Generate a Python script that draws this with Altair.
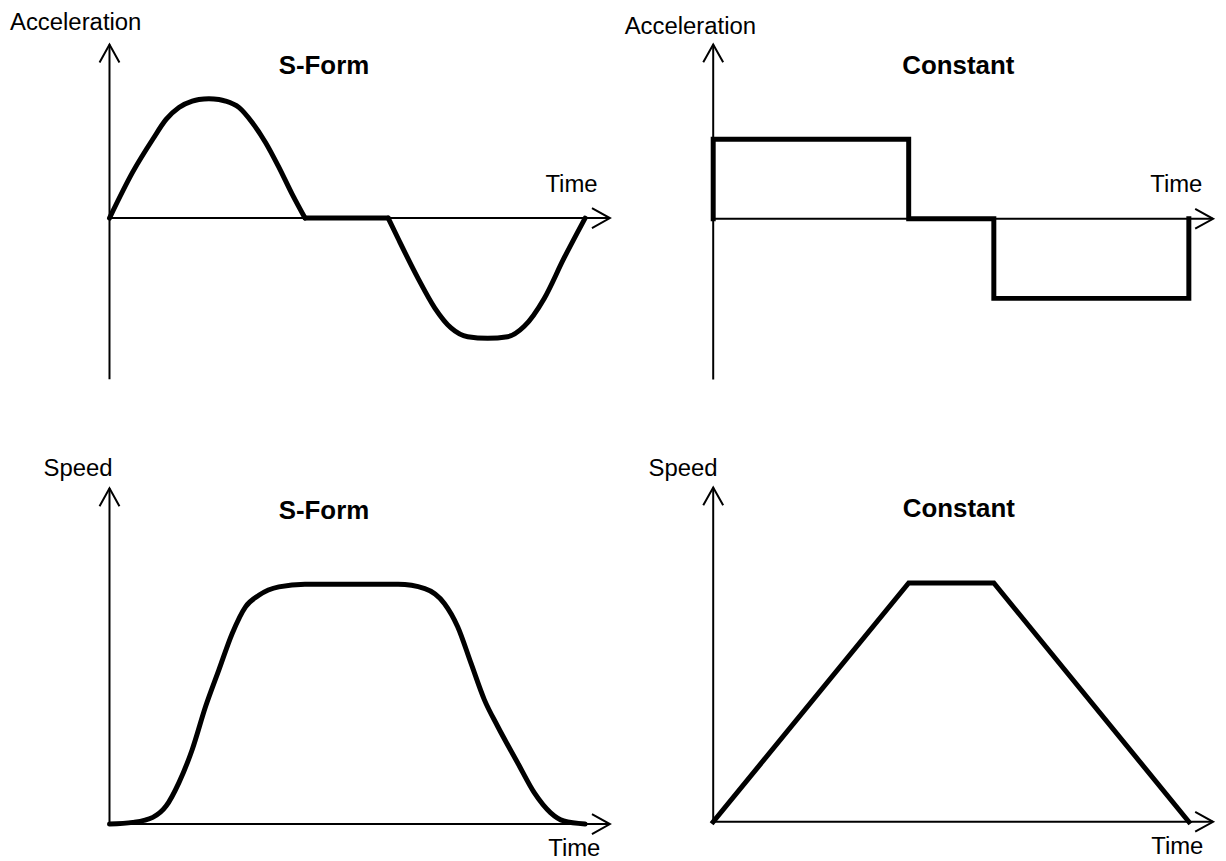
import altair as alt
import pandas as pd

# ------------------------------------------------------------------ data
# Time in units where each move lasts 10; acceleration relative to the level
# of the constant profile; speed relative to its maximum.
time_label = "Time"
value_labels = ["Acceleration", "Speed"]
profile_titles = ["S-Form", "Constant"]

# S-Form acceleration: positive lobe, cruise, negative lobe
sacc_up_t = [0.0, 0.49, 0.91, 1.19, 1.46, 1.74, 1.88, 2.09, 2.30, 2.44, 2.72, 3.00, 3.28, 3.56, 3.84, 4.11]
sacc_up_a = [0.0, 0.58, 0.99, 1.24, 1.39, 1.47, 1.49, 1.50, 1.49, 1.47, 1.39, 1.20, 0.95, 0.64, 0.30, 0.0]
sacc_cruise_t = [4.11, 5.86]
sacc_cruise_a = [0.0, 0.0]
sacc_down_t = [5.86, 6.07, 6.49, 6.84, 7.18, 7.53, 7.95, 8.37, 8.72, 9.14, 9.55, 10.0]
sacc_down_a = [0.0, -0.26, -0.76, -1.13, -1.38, -1.49, -1.51, -1.49, -1.36, -1.01, -0.51, 0.0]

# S-Form speed
sspd_t = [0.0, 0.49, 0.91, 1.19, 1.46, 1.74, 2.02, 2.30, 2.58, 2.86, 3.14, 3.56, 4.11,
          6.07, 6.63, 7.04, 7.32, 7.60, 7.88, 8.16, 8.58, 8.93, 9.27, 9.55, 10.0]
sspd_v = [0.0, 0.007, 0.028, 0.075, 0.173, 0.311, 0.490, 0.643, 0.795, 0.906, 0.954, 0.989, 1.0,
          1.0, 0.982, 0.920, 0.823, 0.671, 0.519, 0.408, 0.256, 0.131, 0.048, 0.013, 0.0]

# Constant acceleration (step profile) and constant speed (trapezoid)
cacc_t = [0.0, 0.0, 4.11, 4.11, 5.90, 5.90, 10.0, 10.0]
cacc_a = [0.0, 1.0, 1.0, 0.0, 0.0, -1.0, -1.0, 0.0]
cspd_t = [0.0, 4.11, 5.90, 10.0]
cspd_v = [0.0, 1.0, 1.0, 0.0]


def curve_frame(parts):
    rows = []
    for name, ts, vs in parts:
        for t, v in zip(ts, vs):
            rows.append({"t": t, "v": v, "seg": name, "i": len(rows)})
    return pd.DataFrame(rows)


sacc_df = curve_frame([("up", sacc_up_t, sacc_up_a),
                       ("cruise", sacc_cruise_t, sacc_cruise_a),
                       ("down", sacc_down_t, sacc_down_a)])
sspd_df = curve_frame([("speed", sspd_t, sspd_v)])
cacc_df = curve_frame([("acc", cacc_t, cacc_a)])
cspd_df = curve_frame([("speed", cspd_t, cspd_v)])

# ------------------------------------------------------------------ layout
FONT = "Liberation Sans"
LEFT_W, RIGHT_W = 607, 605
TOP_H, BOTTOM_H = 444, 409
KX = 47.8  # px per time unit
RIGHT_HEAD = "M-0.9,-0.5L0,0L-0.9,0.5"
UP_HEAD = "M-0.5,0.9L0,0L0.5,0.9"


def label(text, pos, align, size, weight="normal"):
    return alt.Chart(pd.DataFrame({"label": [text]})).mark_text(
        align=align, baseline="alphabetic", font=FONT, fontSize=size,
        fontWeight=weight, color="black"
    ).encode(x=alt.value(pos[0]), y=alt.value(pos[1]), text="label:N")


def panel(df, W, H, ox, oy, ky, t_tip, v_lo, v_tip, smooth,
          ylabel, ylab_pos, title, title_pos, time_pos):
    xs = alt.Scale(domain=[-ox / KX, (W - ox) / KX], nice=False, zero=False)
    ys = alt.Scale(domain=[(oy - H) / ky, oy / ky], nice=False, zero=False)

    def ex(f):
        return alt.X(f, type="quantitative", scale=xs, axis=None)

    def ey(f):
        return alt.Y(f, type="quantitative", scale=ys, axis=None)

    x_axis = alt.Chart(pd.DataFrame({"t0": [0.0], "t1": [t_tip], "v": [0.0]})).mark_rule(
        color="black", strokeWidth=2).encode(x=ex("t0"), x2="t1", y=ey("v"))
    y_axis = alt.Chart(pd.DataFrame({"t": [0.0], "v0": [v_lo], "v1": [v_tip]})).mark_rule(
        color="black", strokeWidth=2).encode(x=ex("t"), y=ey("v0"), y2="v1")
    if smooth:
        line = alt.Chart(df).mark_line(color="black", strokeWidth=5, interpolate="monotone",
                                       strokeJoin="round", strokeCap="round")
    else:
        line = alt.Chart(df).mark_line(color="black", strokeWidth=5, interpolate="linear",
                                       strokeJoin="miter", strokeCap="square")
    curve = line.encode(x=ex("t"), y=ey("v"), detail="seg:N", order="i:Q")
    x_head = alt.Chart(pd.DataFrame({"t": [t_tip], "v": [0.0]})).mark_point(
        shape=RIGHT_HEAD, size=1600, filled=False, color="black", strokeWidth=2, opacity=1
    ).encode(x=ex("t"), y=ey("v"))
    y_head = alt.Chart(pd.DataFrame({"t": [0.0], "v": [v_tip]})).mark_point(
        shape=UP_HEAD, size=1600, filled=False, color="black", strokeWidth=2, opacity=1
    ).encode(x=ex("t"), y=ey("v"))
    return alt.layer(
        x_axis, y_axis, curve, x_head, y_head,
        label(ylabel, ylab_pos, "left", 24),
        label(title, title_pos, "center", 26, "bold"),
        label(time_label, time_pos, "right", 24),
    ).properties(width=W, height=H)


tl = panel(sacc_df, LEFT_W, TOP_H, 102, 208, 80, 10.52, -2.025, 2.18, True,
           value_labels[0], (2, 18.7), profile_titles[0], (317.5, 63.7), (592.5, 181.3))
tr = panel(cacc_df, RIGHT_W, TOP_H, 101.7, 208.7, 80, 10.51, -2.02, 2.19, False,
           value_labels[0], (12.7, 22.7), profile_titles[1], (348, 63), (593.3, 181.3))
bl = panel(sspd_df, LEFT_W, BOTTOM_H, 102, 373, 241, 10.52, 0.0, 1.40, True,
           value_labels[1], (35.7, 23), profile_titles[0], (317.5, 66), (595.3, 404.7))
br = panel(cspd_df, RIGHT_W, BOTTOM_H, 101.7, 370.7, 240, 10.51, 0.0, 1.40, False,
           value_labels[1], (36.7, 23), profile_titles[1], (348.5, 64.7), (594.3, 403))

chart = alt.concat(tl, tr, bl, br, columns=2, spacing=0, bounds="flush").properties(
    padding=0
).configure_view(stroke=None)

chart.save("out.html", embed_options={"renderer": "svg", "actions": False})
